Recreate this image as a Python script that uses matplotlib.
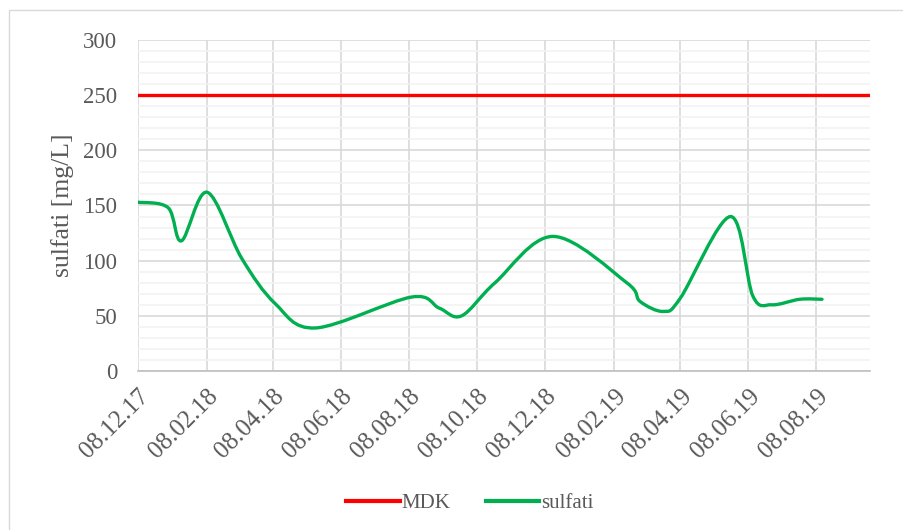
import matplotlib.pyplot as plt
import matplotlib.dates as mdates
from matplotlib.path import Path
from matplotlib.patches import PathPatch, Rectangle
from matplotlib.lines import Line2D
import numpy as np
import datetime as dt

dates = ['2017-12-08', '2018-01-04', '2018-01-16', '2018-02-08', '2018-03-11',
         '2018-04-10', '2018-05-16', '2018-08-10', '2018-09-04', '2018-09-24',
         '2018-10-24', '2018-12-15', '2019-02-19', '2019-03-03', '2019-03-24',
         '2019-04-08', '2019-05-23', '2019-06-12', '2019-06-29', '2019-07-24',
         '2019-08-13']
sulfati = [153, 148, 118, 162, 102,
           61, 39, 67, 57, 50,
           80, 122, 80, 63, 54,
           66, 140, 68, 60, 65,
           65]

# MDK limit
mdk_dates = ['2017-12-08', '2019-09-25']
mdk = [250, 250]

tick_dates = ['2017-12-08', '2018-02-08', '2018-04-08', '2018-06-08', '2018-08-08',
              '2018-10-08', '2018-12-08', '2019-02-08', '2019-04-08', '2019-06-08',
              '2019-08-08']

plt.rcParams['font.family'] = ['Liberation Serif', 'DejaVu Serif']


def to_num(lst):
    return mdates.date2num([dt.datetime.strptime(d, '%Y-%m-%d') for d in lst])


def smooth_path(x, y, t=1.0 / 6):
    # excel-like smoothed line as bezier segments
    verts = [(x[0], y[0])]
    codes = [Path.MOVETO]
    n = len(x)
    for i in range(n - 1):
        x0, y0 = (x[i - 1], y[i - 1]) if i > 0 else (x[i], y[i])
        x3, y3 = (x[i + 2], y[i + 2]) if i + 2 < n else (x[i + 1], y[i + 1])
        c1 = (x[i] + (x[i + 1] - x0) * t, y[i] + (y[i + 1] - y0) * t)
        c2 = (x[i + 1] - (x3 - x[i]) * t, y[i + 1] - (y3 - y[i]) * t)
        verts += [c1, c2, (x[i + 1], y[i + 1])]
        codes += [Path.CURVE4] * 3
    return Path(verts, codes)


fig = plt.figure(figsize=(9.04, 5.30), dpi=100)
fig.patches.append(Rectangle((9 / 904, -0.1), 1.2, 1 - 10 / 530 + 0.1,
                             transform=fig.transFigure, fill=False,
                             edgecolor='#d9d9d9', linewidth=1))
ax = fig.add_axes([138 / 904, 1 - 371 / 530, 732 / 904, 331 / 530])

xn = to_num(dates)
ax.add_patch(PathPatch(smooth_path(xn, sulfati), fill=False,
                       edgecolor='#00B050', linewidth=2.4, capstyle='round', zorder=3))
ax.plot(to_num(mdk_dates), mdk, color='#FF0000', linewidth=2.4, zorder=3)

ax.set_xlim(to_num(mdk_dates))
ax.set_ylim(0, 300)
ax.set_yticks(np.arange(0, 301, 50))
ax.set_yticks(np.arange(0, 301, 10), minor=True)
ax.set_xticks(to_num(tick_dates))
ax.xaxis.set_major_formatter(mdates.DateFormatter('%d.%m.%y'))

ax.grid(True, which='major', color='#d9d9d9', linewidth=1.2)
ax.grid(True, which='minor', axis='y', color='#f2f2f2', linewidth=1.2)
ax.set_axisbelow(True)
for s in ['top', 'right', 'left']:
    ax.spines[s].set_visible(False)
ax.spines['bottom'].set_color('#bfbfbf')
ax.spines['bottom'].set_linewidth(1.2)

ax.tick_params(axis='both', which='both', length=0, labelsize=16.5, labelcolor='#595959')
ax.tick_params(axis='y', pad=15)
ax.tick_params(axis='x', pad=10, labelsize=18)
for lab in ax.get_xticklabels():
    lab.set_rotation(45)
    lab.set_ha('right')
    lab.set_va('top')
    lab.set_rotation_mode('anchor')

ax.set_ylabel('sulfati [mg/L]', fontsize=18.5, color='#595959', va='center')
ax.yaxis.set_label_coords((63 - 138) / 732, 0.5)

handles = [Line2D([], [], color='#FF0000', linewidth=3),
           Line2D([], [], color='#00B050', linewidth=3)]
fig.legend(handles, ['MDK', 'sulfati'], loc='center', bbox_to_anchor=(470 / 904, 1 - 503 / 530),
           ncol=2, frameon=False, fontsize=15, handlelength=2.55, handletextpad=0.1,
           columnspacing=1.7, labelcolor='#595959')

fig.savefig('out.png', dpi=100)
